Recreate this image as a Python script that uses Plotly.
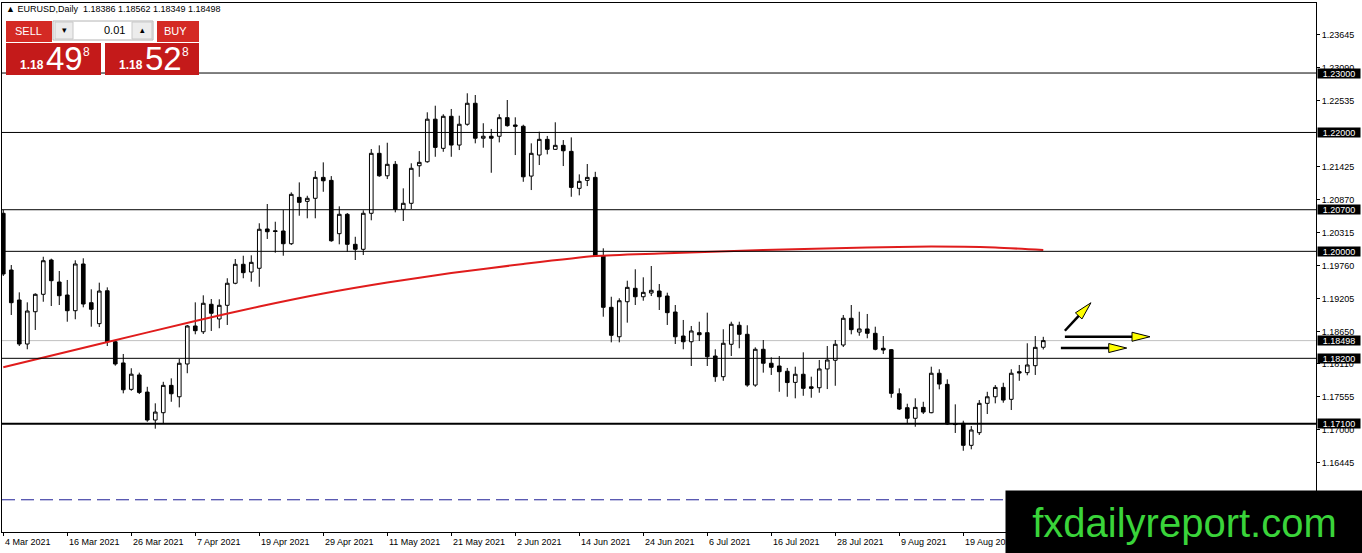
import math
import plotly.graph_objects as go

# EURUSD daily bars (bar 0 = 4 Mar 2021)
opens = [1.20640, 1.19686, 1.19181, 1.18441, 1.18984, 1.19277, 1.19854, 1.19484, 1.19265, 1.19001,
         1.19787, 1.19136, 1.18783, 1.19337, 1.18479, 1.18122, 1.17678, 1.17920, 1.17632, 1.17162,
         1.17285, 1.17745, 1.17553, 1.18105, 1.18744, 1.18647, 1.19109, 1.18862, 1.19092, 1.19463,
         1.19782, 1.19652, 1.19715, 1.20376, 1.20346, 1.20342, 1.20128, 1.20908, 1.20841, 1.20892,
         1.21244, 1.21194, 1.20297, 1.20623, 1.20118, 1.20034, 1.20640, 1.21649, 1.21271, 1.21464,
         1.20707, 1.20808, 1.21440, 1.21507, 1.22223, 1.21733, 1.22272, 1.21788, 1.22138, 1.22491,
         1.21903, 1.21936, 1.21936, 1.22249, 1.22126, 1.22104, 1.21266, 1.21620, 1.21884, 1.21716,
         1.21783, 1.21682, 1.21060, 1.21194, 1.21244, 1.19921, 1.19058, 1.18563, 1.19152, 1.19378,
         1.19236, 1.19299, 1.19332, 1.19248, 1.18979, 1.18575, 1.18479, 1.18631, 1.18631, 1.18239,
         1.17891, 1.18436, 1.18756, 1.18604, 1.17750, 1.18352, 1.18117, 1.18071, 1.17982, 1.17795,
         1.17932, 1.17721, 1.17705, 1.18021, 1.18167, 1.18424, 1.18874, 1.18642, 1.18694, 1.18621,
         1.18369, 1.18345, 1.17604, 1.17369, 1.17191, 1.17375, 1.17285, 1.17949, 1.17762, 1.17103,
         1.17107, 1.16736, 1.16949, 1.17443, 1.17553, 1.17711, 1.17510, 1.17975, 1.17959, 1.18076,
         1.18386]
highs = [1.20695, 1.19770, 1.19310, 1.19142, 1.19294, 1.19909, 1.19876, 1.19669, 1.19518, 1.19849,
         1.19883, 1.19361, 1.19473, 1.19394, 1.18508, 1.18273, 1.18033, 1.17959, 1.17721, 1.17443,
         1.17805, 1.17863, 1.18189, 1.18761, 1.19142, 1.19260, 1.19198, 1.19193, 1.19547, 1.19871,
         1.19926, 1.19933, 1.20472, 1.20796, 1.20498, 1.20695, 1.20992, 1.21160, 1.20935, 1.21350,
         1.21497, 1.21266, 1.20757, 1.20645, 1.20245, 1.20690, 1.21721, 1.21783, 1.21827, 1.21519,
         1.21060, 1.21481, 1.21687, 1.22339, 1.22450, 1.22306, 1.22395, 1.22282, 1.22659, 1.22630,
         1.22155, 1.22059, 1.22306, 1.22546, 1.22255, 1.22130, 1.21817, 1.22013, 1.21941, 1.22171,
         1.21872, 1.21917, 1.21295, 1.21469, 1.21338, 1.20051, 1.19236, 1.19210, 1.19506, 1.19698,
         1.19563, 1.19753, 1.19450, 1.19304, 1.19097, 1.18845, 1.18744, 1.18816, 1.18968, 1.18352,
         1.18689, 1.18816, 1.18816, 1.18756, 1.18385, 1.18508, 1.18217, 1.18239, 1.18038, 1.18059,
         1.18301, 1.17891, 1.18172, 1.18407, 1.18508, 1.18929, 1.19097, 1.18984, 1.18946, 1.18732,
         1.18575, 1.18357, 1.17695, 1.17436, 1.17527, 1.17469, 1.18059, 1.18016, 1.17846, 1.17426,
         1.17150, 1.17061, 1.17498, 1.17637, 1.17750, 1.17789, 1.18016, 1.18088, 1.18453, 1.18575,
         1.18562]
lows = [1.19585, 1.18929, 1.18407, 1.18352, 1.18677, 1.19152, 1.19080, 1.19097, 1.18816, 1.18857,
        1.19058, 1.18732, 1.18727, 1.18407, 1.18076, 1.17611, 1.17654, 1.17599, 1.17133, 1.17016,
        1.17107, 1.17469, 1.17375, 1.17949, 1.18604, 1.18609, 1.18660, 1.18706, 1.18761, 1.19446,
        1.19547, 1.19489, 1.19404, 1.20208, 1.19977, 1.19926, 1.20106, 1.20599, 1.20556, 1.20556,
        1.21002, 1.20161, 1.20118, 1.19993, 1.19854, 1.19938, 1.20522, 1.21254, 1.21216, 1.20656,
        1.20510, 1.20712, 1.21254, 1.21491, 1.21591, 1.21675, 1.21591, 1.21704, 1.22114, 1.21817,
        1.21743, 1.21322, 1.21833, 1.22097, 1.21620, 1.21170, 1.21031, 1.21452, 1.21632, 1.21708,
        1.21435, 1.20918, 1.20942, 1.21098, 1.19909, 1.18900, 1.18469, 1.18469, 1.18800, 1.19097,
        1.19169, 1.19248, 1.19013, 1.18761, 1.18441, 1.18352, 1.18071, 1.18491, 1.18071, 1.17805,
        1.17822, 1.18239, 1.18369, 1.17721, 1.17721, 1.17959, 1.17920, 1.17637, 1.17553, 1.17527,
        1.17570, 1.17537, 1.17621, 1.17683, 1.17738, 1.18390, 1.18604, 1.18580, 1.18537, 1.18335,
        1.18273, 1.17537, 1.17330, 1.17107, 1.17049, 1.17263, 1.17276, 1.17678, 1.17078, 1.16944,
        1.16645, 1.16669, 1.16910, 1.17263, 1.17443, 1.17453, 1.17330, 1.17822, 1.17915, 1.17920,
        1.18349]
closes = [1.19619, 1.19136, 1.18441, 1.18996, 1.19277, 1.19842, 1.19506, 1.19253, 1.19001, 1.19787,
          1.19114, 1.19025, 1.19332, 1.18479, 1.18105, 1.17671, 1.17933, 1.17627, 1.17162, 1.17296,
          1.17745, 1.17604, 1.18117, 1.18744, 1.18665, 1.19126, 1.18958, 1.19092, 1.19463, 1.19782,
          1.19641, 1.19815, 1.20371, 1.20330, 1.20334, 1.20128, 1.20959, 1.20824, 1.20892, 1.21244,
          1.21187, 1.20178, 1.20623, 1.20118, 1.20034, 1.20640, 1.21649, 1.21271, 1.21464, 1.20707,
          1.20808, 1.21397, 1.21497, 1.22223, 1.21749, 1.22272, 1.21788, 1.22138, 1.22491, 1.21903,
          1.21936, 1.21903, 1.22249, 1.22114, 1.22104, 1.21254, 1.21649, 1.21884, 1.21716, 1.21783,
          1.21692, 1.21076, 1.21177, 1.21244, 1.19921, 1.19058, 1.18587, 1.19169, 1.19394, 1.19236,
          1.19310, 1.19344, 1.19236, 1.18968, 1.18563, 1.18479, 1.18660, 1.18597, 1.18227, 1.17891,
          1.18453, 1.18773, 1.18604, 1.17750, 1.18352, 1.18117, 1.18049, 1.17975, 1.17792, 1.17932,
          1.17695, 1.17695, 1.18021, 1.18172, 1.18436, 1.18874, 1.18682, 1.18694, 1.18621, 1.18352,
          1.18340, 1.17611, 1.17347, 1.17191, 1.17375, 1.17296, 1.17949, 1.17767, 1.17095, 1.17086,
          1.16736, 1.16994, 1.17443, 1.17553, 1.17711, 1.17498, 1.17949, 1.17954, 1.18088, 1.18385,
          1.18498]
bars = list(range(len(opens)))

# moving average, sampled off the red line
ma_bars = [0, 12, 24, 32, 40, 48, 56, 65, 74, 82, 95, 108, 116, 124, 130]
ma_values = [1.18049, 1.18441, 1.18828, 1.19071, 1.19290, 1.19475, 1.19635, 1.19787,
             1.19921, 1.19963, 1.20022, 1.20064, 1.20081, 1.20064, 1.20022]

date_bars = [0, 8, 16, 24, 32, 40, 48, 56, 64, 72, 80, 88, 96, 104, 112, 120]
date_labels = ['4 Mar 2021', '16 Mar 2021', '26 Mar 2021', '7 Apr 2021', '19 Apr 2021',
               '29 Apr 2021', '11 May 2021', '21 May 2021', '2 Jun 2021', '14 Jun 2021',
               '24 Jun 2021', '6 Jul 2021', '16 Jul 2021', '28 Jul 2021', '9 Aug 2021',
               '19 Aug 2021']

price_ticks = [1.23645, 1.23090, 1.22535, 1.21425, 1.20870, 1.20315, 1.19760,
               1.19205, 1.18650, 1.18110, 1.17555, 1.17000, 1.16445]
levels = [1.23, 1.22, 1.207, 1.20, 1.182, 1.171]
level_widths = [1, 1, 1, 1, 1, 2]
bid = 1.18498
dashed_level = 1.1582

# hand drawn arrows: (tail bar, tail price, tip bar, tip price)
arrows = [(132.7, 1.18664, 135.96, 1.19135),
          (132.7, 1.18563, 143.34, 1.18563),
          (132.2, 1.18373, 140.43, 1.18373)]

W, H = 1362, 553
ML, MR, MT, MB = 2, 46, 3, 21
FONT = 'Liberation Sans'
XS = 8.0      # px per bar
YS = 5944.0   # px per price unit


def fx(px):
    return (px - ML) / (W - ML - MR)


def fy(py):
    return 1 - (py - MT) / (H - MT - MB)


def box(x0, y0, x1, y1, fill, line=None):
    return dict(type='rect', xref='paper', yref='paper', layer='above',
                x0=fx(x0), x1=fx(x1), y0=fy(y1), y1=fy(y0), fillcolor=fill,
                line=dict(color=line or fill, width=1 if line else 0))


def text(px, py, s, size, color='white', anchor='center', bold=False):
    return dict(xref='paper', yref='paper', x=fx(px), y=fy(py), text=s,
                showarrow=False, xanchor=anchor, yanchor='middle', borderpad=0,
                font=dict(family=FONT, size=size, color=color,
                          weight='bold' if bold else 'normal'))


fig = go.Figure()
fig.add_trace(go.Candlestick(
    x=bars, open=opens, high=highs, low=lows, close=closes,
    increasing=dict(line=dict(color='black', width=1), fillcolor='white'),
    decreasing=dict(line=dict(color='black', width=1), fillcolor='black'),
    hoverinfo='skip', showlegend=False))
fig.add_trace(go.Scatter(x=ma_bars, y=ma_values, mode='lines',
                         line=dict(color='#e01c1c', width=2, shape='spline', smoothing=0.6),
                         hoverinfo='skip', showlegend=False))

shapes = []
for lv, w in zip(levels, level_widths):
    shapes.append(dict(type='line', xref='paper', yref='y', x0=0, x1=1, y0=lv, y1=lv,
                       line=dict(color='black', width=w), layer='above'))
shapes.append(dict(type='line', xref='paper', yref='y', x0=0, x1=1, y0=bid, y1=bid,
                   line=dict(color='#c0c0c0', width=1), layer='below'))
shapes.append(dict(type='line', xref='paper', yref='y', x0=0, x1=1,
                   y0=dashed_level, y1=dashed_level,
                   line=dict(color='#1e1e96', width=1, dash='13px,6px'), layer='above'))

# arrows: black shaft, yellow head
for x0, y0, x1, y1 in arrows:
    dx, dy = (x1 - x0) * XS, (y1 - y0) * YS
    ln = math.hypot(dx, dy)
    ux, uy = dx / ln, dy / ln
    bx, by = x1 - 18 * ux / XS, y1 - 18 * uy / YS
    c1 = (bx - 4.5 * uy / XS, by + 4.5 * ux / YS)
    c2 = (bx + 4.5 * uy / XS, by - 4.5 * ux / YS)
    shapes.append(dict(type='line', xref='x', yref='y', x0=x0, y0=y0, x1=bx, y1=by,
                       line=dict(color='black', width=2.5), layer='above'))
    shapes.append(dict(type='path', xref='x', yref='y', layer='above',
                       path=f'M {x1},{y1} L {c1[0]},{c1[1]} L {c2[0]},{c2[1]} Z',
                       fillcolor='#ffff00', line=dict(color='black', width=1)))

# one-click trading panel
shapes += [
    box(6, 21, 52, 42, '#d42a24'),
    box(157, 21, 199, 42, '#d42a24'),
    box(6, 43, 101, 75, '#c41a1a'),
    box(105, 43, 199, 75, '#c41a1a'),
    box(53, 21, 153, 40, 'white', '#b4b4b4'),
    box(55, 22, 73, 39, '#ececec', '#c8c8c8'),
    box(132, 22, 152, 39, '#ececec', '#c8c8c8'),
]

ann = []
ann.append(text(5, 9, '▲ EURUSD,Daily  1.18386 1.18562 1.18349 1.18498', 9,
                color='black', anchor='left'))
ann += [
    text(28, 31, 'SELL', 11), text(175, 31, 'BUY', 11),
    text(126, 30, '0.01', 11, color='black', anchor='right'),
    text(64, 30, '▾', 9, color='black'), text(142, 30, '▴', 9, color='black'),
    text(32, 65, '1.18', 12, bold=True), text(64, 58, '49', 33), text(86, 52, '8', 12),
    text(131, 65, '1.18', 12, bold=True), text(163, 58, '52', 33), text(185, 52, '8', 12),
]

# price labels on the right axis
for lv in levels + [bid]:
    ann.append(dict(xref='paper', yref='y', x=1, y=lv, xanchor='left', yanchor='middle',
                    xshift=1, text=f'{lv:.5f}', showarrow=False, bgcolor='black',
                    width=42, height=9, borderpad=0,
                    font=dict(family=FONT, size=9, color='white')))

# date labels, left-aligned at the tick like MT4
for b, lab in zip(date_bars, date_labels):
    ann.append(dict(xref='x', yref='paper', x=b, y=0, xanchor='left', yanchor='top',
                    xshift=0, yshift=-3, text=lab, showarrow=False,
                    font=dict(family=FONT, size=9, color='black')))

# watermark
ann.append(dict(xref='paper', yref='paper', x=fx(1005), y=fy(490), xanchor='left',
                yanchor='top', width=357, height=63, bgcolor='black', borderpad=0,
                text='fxdailyreport.com', showarrow=False,
                font=dict(family=FONT, size=40, color='#3ad43a')))

fig.update_layout(
    width=W, height=H, margin=dict(l=ML, r=MR, t=MT, b=MB),
    paper_bgcolor='white', plot_bgcolor='white', boxgap=0.35,
    font=dict(family=FONT, size=9, color='black'),
    shapes=shapes, annotations=ann, showlegend=False,
    xaxis=dict(range=[-0.16, 164.09], showgrid=False, zeroline=False,
               rangeslider=dict(visible=False), tickmode='array', tickvals=date_bars,
               showticklabels=False, ticks='outside', ticklen=3, tickcolor='black',
               showline=True, linecolor='black', linewidth=1, mirror=True),
    yaxis=dict(range=[1.15278, 1.24178], side='right', showgrid=False, zeroline=False,
               tickmode='array', tickvals=price_ticks,
               ticktext=[f'{t:.5f}' for t in price_ticks],
               ticks='outside', ticklen=3, tickcolor='black',
               tickfont=dict(family=FONT, size=9, color='black'),
               showline=True, linecolor='black', linewidth=1, mirror=True),
)

# page margin off so the chart sits at the window's corner
fig.write_html("out.html", config={'displayModeBar': False},
               post_script="document.body.style.margin='0';")
